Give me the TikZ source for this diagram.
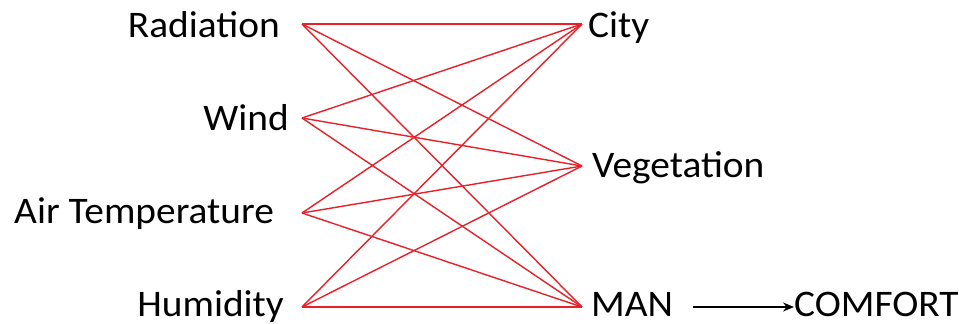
\documentclass[tikz,border=0pt]{standalone}
\usepackage{fontspec}
\setmainfont{Carlito}[FakeStretch=1.05]
\usetikzlibrary{arrows.meta}
\definecolor{linkred}{RGB}{232,32,40}
\tikzset{
  lbl/.style={inner sep=0pt, font=\fontsize{37.5}{42}\selectfont},
  link/.style={draw=linkred, line width=1.4pt},
  flow/.style={draw=black, line width=1.2pt, -{Stealth[length=11pt,width=9pt]}}
}
\begin{document}
\begin{tikzpicture}[x=1pt,y=-1pt]
\useasboundingbox (0,0) rectangle (959,324);
% left labels
\node[lbl, anchor=base east] (rad) at (280,37) {Radiation};
\node[lbl, anchor=base east] (wind) at (289,130) {Wind};
\node[lbl, anchor=base east] (air) at (274,223) {Air Temperature};
\node[lbl, anchor=base east] (hum) at (284,316) {Humidity};
% right labels
\node[lbl, anchor=base west] (city) at (588,37) {City};
\node[lbl, anchor=base west] (veg) at (592,177) {Vegetation};
\node[lbl, anchor=base west] (man) at (591,316) {MAN};
\node[lbl, anchor=base west] (comf) at (794,316) {COMFORT};
% connector ends
\coordinate (pR) at (302,24);
\coordinate (pW) at (302,118);
\coordinate (pA) at (302,213);
\coordinate (pH) at (302,307);
\coordinate (qC) at (582,24);
\coordinate (qV) at (582,166);
\coordinate (qM) at (582,307);
\foreach \a in {pR,pW,pA,pH}{
  \foreach \b in {qC,qV,qM}{
    \draw[link] (\a) -- (\b);
  }
}
\coordinate (arrS) at (693,307);
\draw[flow] (arrS) -- (comf.west |- arrS);
\end{tikzpicture}
\end{document}
